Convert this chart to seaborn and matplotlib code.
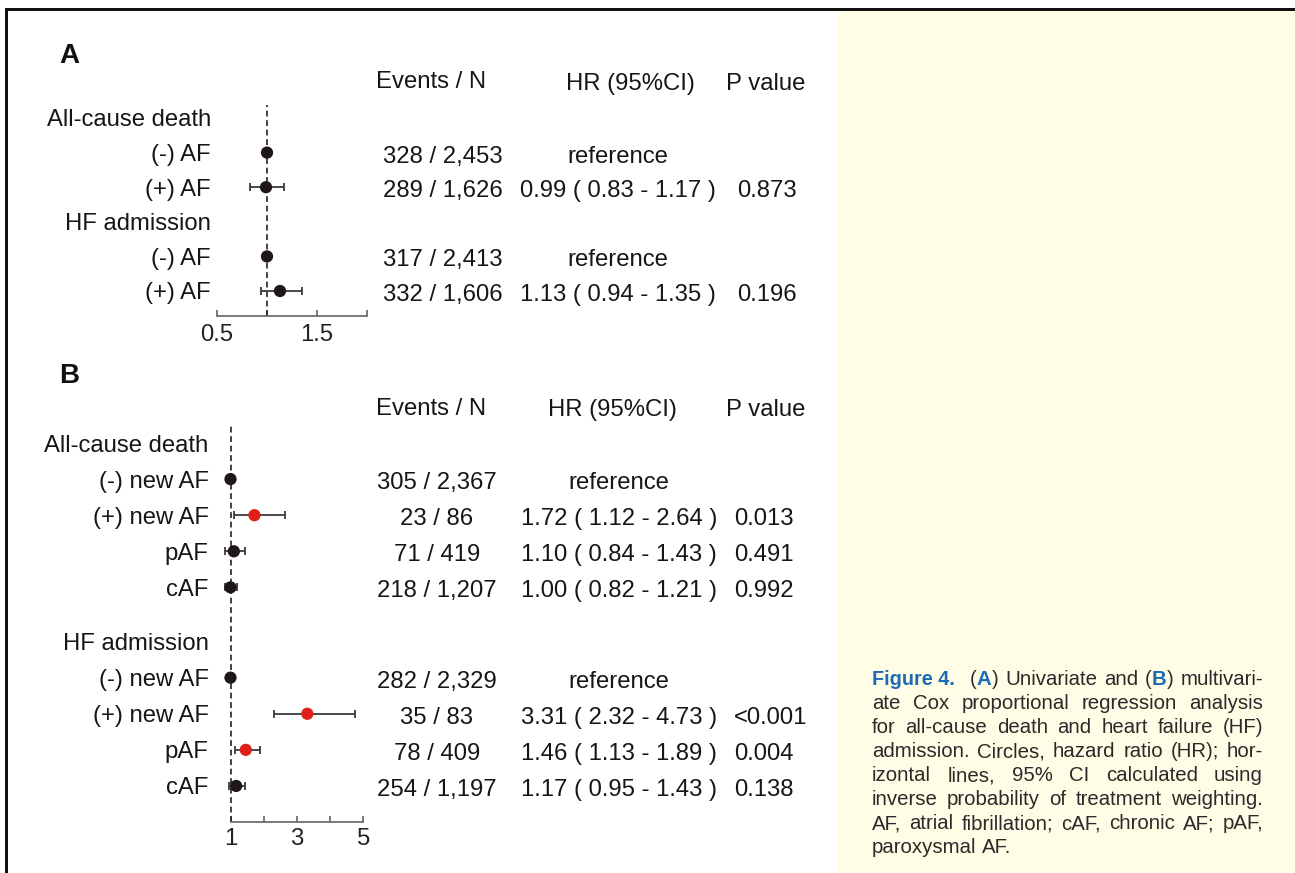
import matplotlib
matplotlib.use("Agg")
import matplotlib.pyplot as plt
import matplotlib.transforms as mtransforms
from matplotlib.patches import Rectangle
import numpy as np
import pandas as pd
import seaborn as sns

W, H = 1295, 873
nan = np.nan

# Panel A: univariate Cox regression
a_labels = ["All-cause death", "(-) AF", "(+) AF", "HF admission", "(-) AF", "(+) AF"]
a_hr = [nan, 1.00, 0.99, nan, 1.00, 1.13]
a_lo = [nan, nan, 0.83, nan, nan, 0.94]
a_hi = [nan, nan, 1.17, nan, nan, 1.35]
a_events = ["", "328 / 2,453", "289 / 1,626", "", "317 / 2,413", "332 / 1,606"]
a_p = ["", "", "0.873", "", "", "0.196"]
a_ticks = [0.5, 1.0, 1.5, 2.0]
a_ticklabels = ["0.5", "", "1.5", ""]

# Panel B: multivariate Cox regression
b_labels = ["All-cause death", "(-) new AF", "(+) new AF", "pAF", "cAF",
            "HF admission", "(-) new AF", "(+) new AF", "pAF", "cAF"]
b_hr = [nan, 1.00, 1.72, 1.10, 1.00, nan, 1.00, 3.31, 1.46, 1.17]
b_lo = [nan, nan, 1.12, 0.84, 0.82, nan, nan, 2.32, 1.13, 0.95]
b_hi = [nan, nan, 2.64, 1.43, 1.21, nan, nan, 4.73, 1.89, 1.43]
b_events = ["", "305 / 2,367", "23 / 86", "71 / 419", "218 / 1,207",
            "", "282 / 2,329", "35 / 83", "78 / 409", "254 / 1,197"]
b_p = ["", "", "0.013", "0.491", "0.992", "", "", "<0.001", "0.004", "0.138"]
b_ticks = [1, 2, 3, 4, 5]
b_ticklabels = ["1", "", "3", "", "5"]

TEXT = "#161616"
LABEL_SIZE = 17.2


def fx(x):
    return x / W


def fy(y):
    return 1 - y / H


def make_frame(labels, hr, lo, hi, events, pvals, gap_at=None):
    df = pd.DataFrame({"label": labels, "hr": hr, "lo": lo, "hi": hi,
                       "events": events, "p": pvals})
    pos = np.arange(len(df), dtype=float)
    if gap_at is not None:
        pos[gap_at:] += 0.5
    df["pos"] = pos
    df["sig"] = df["p"].map(lambda s: s != "" and float(s.lstrip("<")) < 0.05)

    def hr_text(r):
        if np.isnan(r.hr):
            return ""
        if np.isnan(r.lo):
            return "reference"
        return f"{r.hr:.2f} ( {r.lo:.2f} - {r.hi:.2f} )"

    df["hr_text"] = [hr_text(r) for r in df.itertuples()]
    return df


def forest(fig, df, box, x_anchor, row0, row_step, ticks, ticklabels,
           cols, header_y, label_pad, tick_pad):
    left, right, top, bottom = box
    x0_val, x0_px, px_per_unit = x_anchor
    ax = fig.add_axes([fx(left), fy(bottom), (right - left) / W, (bottom - top) / H])
    ax.set_facecolor("none")

    ci = df.dropna(subset=["lo"])
    pts = df.dropna(subset=["hr"])
    ax.axvline(1, color="#222222", lw=1.2, ls=(0, (3.5, 2.2)), zorder=1)
    ax.errorbar(ci["hr"], ci["pos"], xerr=[ci["hr"] - ci["lo"], ci["hi"] - ci["hr"]],
                fmt="none", ecolor="#3a3a3a", elinewidth=1.3, capsize=3.2,
                capthick=1.3, zorder=2)
    sns.scatterplot(data=pts, x="hr", y="pos", hue="sig",
                    palette={False: "#1f1717", True: "#e0201b"},
                    s=78, edgecolor="none", legend=False, ax=ax, zorder=3)

    ax.set_xlim(x0_val - (x0_px - left) / px_per_unit,
                x0_val + (right - x0_px) / px_per_unit)
    ax.set_ylim((bottom - row0) / row_step, (top - row0) / row_step)
    ax.set_xlabel("")
    ax.set_ylabel("")

    for side in ["top", "right", "left"]:
        ax.spines[side].set_visible(False)
    ax.spines["bottom"].set_color("#6e6e6e")
    ax.spines["bottom"].set_linewidth(1.3)
    ax.spines["bottom"].set_bounds(ticks[0], ticks[-1])
    ax.set_xticks(ticks)
    ax.set_xticklabels(ticklabels, fontsize=LABEL_SIZE, color="#222222")
    ax.tick_params(axis="x", direction="in", length=4, width=1.3,
                   color="#6e6e6e", pad=tick_pad, bottom=True)
    ax.set_yticks(df["pos"])
    ax.set_yticklabels(df["label"], fontsize=LABEL_SIZE, color=TEXT)
    ax.tick_params(axis="y", length=0, pad=label_pad, left=True)

    trans = mtransforms.blended_transform_factory(fig.transFigure, ax.transData)
    header_pos = (header_y - row0) / row_step
    shift = 1.5 / row_step
    (ev_x, ev_hx), (hr_x, hr_hx), (p_x, p_hx) = cols
    ax.text(fx(ev_hx), header_pos, "Events / N", transform=trans, ha="center",
            va="center_baseline", fontsize=LABEL_SIZE, color=TEXT)
    ax.text(fx(hr_hx), header_pos + 0.05, "HR (95%CI)", transform=trans, ha="center",
            va="center_baseline", fontsize=LABEL_SIZE, color=TEXT)
    ax.text(fx(p_hx), header_pos + 0.05, "P value", transform=trans, ha="center",
            va="center_baseline", fontsize=LABEL_SIZE, color=TEXT)
    for r in df.itertuples():
        ax.text(fx(ev_x), r.pos + shift, r.events, transform=trans, ha="center",
                va="center_baseline", fontsize=LABEL_SIZE, color=TEXT)
        ax.text(fx(hr_x), r.pos + shift, r.hr_text, transform=trans, ha="center",
                va="center_baseline", fontsize=LABEL_SIZE, color=TEXT)
        ax.text(fx(p_x), r.pos + shift, r.p, transform=trans, ha="left",
                va="center_baseline", fontsize=LABEL_SIZE, color=TEXT)
    return ax


sns.set_theme(style="white")
plt.rcParams["font.family"] = ["Liberation Sans", "DejaVu Sans"]

fig = plt.figure(figsize=(W / 100, H / 100), dpi=100)
fig.patch.set_facecolor("white")

# cream caption panel and black frame lines
fig.add_artist(Rectangle((fx(838), 0), 1 - fx(838), fy(11), transform=fig.transFigure,
                         facecolor="#fffde5", edgecolor="none", zorder=0))
fig.add_artist(Rectangle((fx(5), fy(11)), 1 - fx(5), 3 / H, transform=fig.transFigure,
                         facecolor="#111111", edgecolor="none", zorder=1))
fig.add_artist(Rectangle((fx(5), 0), 3 / W, fy(8), transform=fig.transFigure,
                         facecolor="#111111", edgecolor="none", zorder=1))

df_a = make_frame(a_labels, a_hr, a_lo, a_hi, a_events, a_p)
df_b = make_frame(b_labels, b_hr, b_lo, b_hi, b_events, b_p, gap_at=5)

forest(fig, df_a, box=(215, 380, 105, 316), x_anchor=(0.5, 217, 100.0),
       row0=118, row_step=34.6, ticks=a_ticks, ticklabels=a_ticklabels,
       cols=((443, 431), (618, 630), (737, 766)), header_y=80,
       label_pad=3, tick_pad=6)
forest(fig, df_b, box=(215, 380, 425, 822), x_anchor=(1, 230.5, 33.25),
       row0=443, row_step=36.1, ticks=b_ticks, ticklabels=b_ticklabels,
       cols=((437, 431), (619, 612), (734, 766)), header_y=406,
       label_pad=4.5, tick_pad=4)

fig.text(fx(59), fy(56), "A", fontsize=20, fontweight="bold", color="#111111",
         ha="left", va="center")
fig.text(fx(59), fy(376), "B", fontsize=20, fontweight="bold", color="#111111",
         ha="left", va="center")

# caption, justified line by line
CAP = dict(fontsize=14.7, color="#2a2a2a")
BLUE = dict(fontsize=14.7, color="#1c6cb5", fontweight="bold")
renderer = fig.canvas.get_renderer()


def put_line(words, x0, x1, base, justify=True):
    placed = []
    total = 0.0
    for word in words:
        segs = []
        for s, props in word:
            t = fig.text(0, fy(base), s, ha="left", va="baseline", **props)
            w = t.get_window_extent(renderer).width
            segs.append((t, w))
        ww = sum(w for _, w in segs)
        placed.append((segs, ww))
        total += ww
    probe1 = fig.text(0, 0, "a a", **CAP)
    probe2 = fig.text(0, 0, "aa", **CAP)
    space = probe1.get_window_extent(renderer).width - probe2.get_window_extent(renderer).width
    probe1.remove()
    probe2.remove()
    gap = (x1 - x0 - total) / (len(words) - 1) if justify and len(words) > 1 else space
    x = x0
    for segs, ww in placed:
        for t, w in segs:
            t.set_position((fx(x), fy(base)))
            x += w
        x += gap


def plain(line):
    return [[(w, CAP)] for w in line.split()]


fig.text(fx(872), fy(685), "Figure 4.", ha="left", va="baseline",
         fontsize=14.3, fontweight="bold", color="#1c6cb5")
first = [[("(", CAP), ("A", BLUE), (")", CAP)], [("Univariate", CAP)], [("and", CAP)],
         [("(", CAP), ("B", BLUE), (")", CAP)], [("multivari-", CAP)]]
put_line(first, 970, 1263, 685)
rest = ["ate Cox proportional regression analysis",
        "for all-cause death and heart failure (HF)",
        "admission. Circles, hazard ratio (HR); hor-",
        "izontal lines, 95% CI calculated using",
        "inverse probability of treatment weighting.",
        "AF, atrial fibrillation; cAF, chronic AF; pAF,"]
for i, line in enumerate(rest):
    put_line(plain(line), 872, 1263, 709 + 24 * i)
put_line(plain("paroxysmal AF."), 872, 1263, 853, justify=False)

fig.savefig("out.png", dpi=100)
